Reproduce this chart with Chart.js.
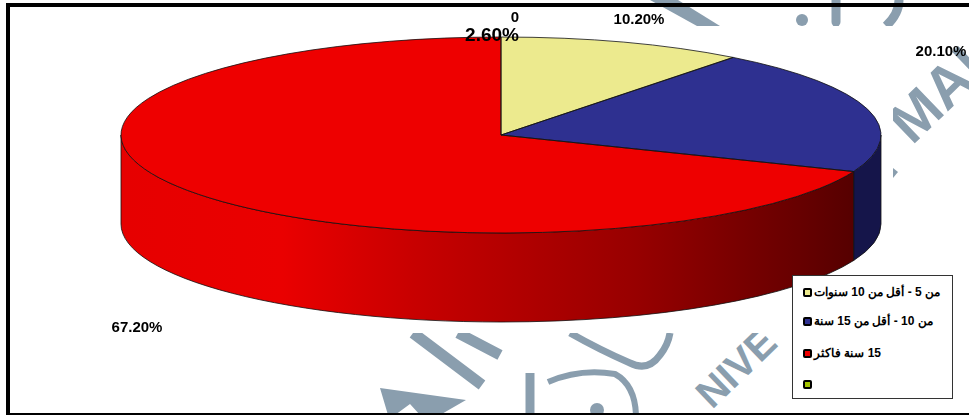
<!DOCTYPE html>
<html lang="ar">
<head>
<meta charset="UTF-8">
<title>Pie</title>
<script src="https://cdn.jsdelivr.net/npm/chart.js@4"></script>
<style>
    body { margin: 0; background: #fff; font-family: "Liberation Sans", Arial, sans-serif; }
    #page { position: relative; width: 969px; height: 415px; overflow: hidden; }
    #page > * { position: absolute; }
    #mark { left: 0; top: 0; }
    #mask { left: 8px; top: 26px; width: 885px; height: 307px; background: #fff; }
    #chart { left: 0; top: 0; }
    .bar { background: #000; }
    #legend { left: 792px; top: 275px; width: 161px; height: 124px; background: #fff;
              border: 1px solid #333; box-sizing: border-box; }
    .row { position: absolute; left: 10px; display: flex; align-items: center; height: 16px;
           font-weight: bold; font-size: 12px; white-space: nowrap; }
    .row i { display: block; width: 5px; height: 5px; border: 2px solid #000; border-radius: 2px; margin-right: 2px; }
    .row span { direction: rtl; unicode-bidi: isolate; }
</style>
</head>
<body>
<div id="page">
    <svg id="mark" width="969" height="415" fill="#8a9eae" stroke="none">
        <polygon points="650,0 678,0 720,26 697,26"/>
        <circle cx="802" cy="20" r="6"/>
        <path d="M836 0V22" stroke="#8a9eae" stroke-width="9" stroke-linecap="round"/>
        <path d="M899 0Q899 14 886 26" fill="none" stroke="#8a9eae" stroke-width="9"/>
        <text transform="translate(912 146) rotate(-44)" font-family="Liberation Sans" font-weight="bold" font-size="58">MAL</text>
        <polygon points="893,168 898,172 893,178"/>
        <path d="M413 333L482 385M458 333L500 355" stroke="#8a9eae" stroke-width="11" fill="none"/>
        <polygon points="380,388 466,400 440,415 420,415 410,404 395,415 388,415"/>
        <path d="M570 333Q600 350 630 363Q648 372 660 355Q668 345 670 333" fill="none" stroke="#8a9eae" stroke-width="7"/>
        <path d="M548 382Q580 368 615 374Q635 385 636 415" fill="none" stroke="#8a9eae" stroke-width="6"/>
        <path d="M530 373V415" stroke="#8a9eae" stroke-width="9"/>
        <circle cx="597" cy="410" r="7"/>
        <text transform="translate(712 410) rotate(-44)" font-family="Liberation Sans" font-weight="bold" font-size="40">NIVE</text>
    </svg>
    <div id="mask"></div>
    <canvas id="chart" width="969" height="415"></canvas>
    <div id="legend"></div>
    <div class="bar" style="left:6px;top:3px;width:963px;height:4px"></div>
    <div class="bar" style="left:6px;top:3px;width:4px;height:412px"></div>
    <div class="bar" style="left:6px;top:413px;width:963px;height:2px"></div>
</div>

<script>
    const categories = ['من 5 - أقل من 10 سنوات', 'من 10 - أقل من 15 سنة', '15 سنة فاكثر', ''];
    const shares = [10.2, 20.1, 67.2, 0];
    const strayLabel = '2.60%';

    const topColors = ['#ecea8e', '#2e3090', '#ee0000', '#a4c400'];
    const legendColors = ['#ecea8e', '#2e3090', '#ee0000', '#a4c400'];

    // where the value labels sit, same order as shares
    const labelSpots = [[639, 20], [941, 52], [137, 328], [515, 18]];

    const centerY = 135, radiusX = 380, radiusY = 98, depth = 89;
    const squash = radiusY / radiusX;

    function wallFill(ctx, index) {
        if (index === 1) return '#15154a';
        if (index !== 2) return topColors[index];
        const g = ctx.createLinearGradient(121, 0, 853, 0);
        g.addColorStop(0, '#e60000');
        g.addColorStop(0.22, '#ea0000');
        g.addColorStop(0.4, '#c80000');
        g.addColorStop(0.7, '#980000');
        g.addColorStop(0.93, '#660000');
        g.addColorStop(1, '#560000');
        return g;
    }

    // 3D look: side wall before the slices, squashed slices, outlines after
    const tiltPlugin = {
        id: 'tilt',
        beforeDatasetsDraw(chart) {
            const ctx = chart.ctx;
            chart.getDatasetMeta(0).data.forEach((arc, i) => {
                const a = Math.max(arc.startAngle, 0);
                const b = Math.min(arc.endAngle, Math.PI);
                if (b <= a) return;
                ctx.beginPath();
                ctx.ellipse(arc.x, centerY, radiusX, radiusY, 0, a, b);
                ctx.ellipse(arc.x, centerY + depth, radiusX, radiusY, 0, b, a, true);
                ctx.closePath();
                ctx.fillStyle = wallFill(ctx, i);
                ctx.fill();
                ctx.strokeStyle = '#111';
                ctx.lineWidth = 0.8;
                ctx.stroke();
            });
            ctx.save();
            ctx.translate(0, centerY);
            ctx.scale(1, squash);
            ctx.translate(0, -chart.getDatasetMeta(0).data[0].y);
        },
        afterDatasetsDraw(chart) {
            const ctx = chart.ctx;
            ctx.restore();
            ctx.strokeStyle = '#111';
            ctx.lineWidth = 0.8;
            chart.getDatasetMeta(0).data.forEach(arc => {
                if (arc.endAngle <= arc.startAngle) return;
                ctx.beginPath();
                ctx.moveTo(arc.x, centerY);
                ctx.ellipse(arc.x, centerY, radiusX, radiusY, 0, arc.startAngle, arc.endAngle);
                ctx.closePath();
                ctx.stroke();
            });
        },
        afterDraw(chart) {
            const ctx = chart.ctx;
            ctx.fillStyle = '#000';
            ctx.textAlign = 'center';
            ctx.textBaseline = 'middle';
            ctx.font = 'bold 15px "Liberation Sans"';
            shares.forEach((v, i) => {
                const text = v ? v.toFixed(2) + '%' : String(v);
                ctx.fillText(text, labelSpots[i][0], labelSpots[i][1]);
            });
            ctx.font = 'bold 19px "Liberation Sans"';
            ctx.fillText(strayLabel, 492, 36);
        }
    };

    new Chart(document.getElementById('chart'), {
        type: 'pie',
        data: {
            labels: categories,
            datasets: [{ data: shares, backgroundColor: topColors, borderWidth: 0, clip: false }]
        },
        options: {
            responsive: false,
            animation: false,
            radius: radiusX,
            layout: { padding: { left: 33, bottom: 145 } },
            plugins: { legend: { display: false }, tooltip: { enabled: false } }
        },
        plugins: [tiltPlugin]
    });

    const rowTops = [8, 37, 69, 100];
    const legend = document.getElementById('legend');
    categories.forEach((name, i) => {
        const row = document.createElement('div');
        row.className = 'row';
        row.style.top = rowTops[i] + 'px';
        row.innerHTML = '<i style="background:' + legendColors[i] + '"></i><span>' + name + '</span>';
        legend.appendChild(row);
    });
</script>
</body>
</html>
